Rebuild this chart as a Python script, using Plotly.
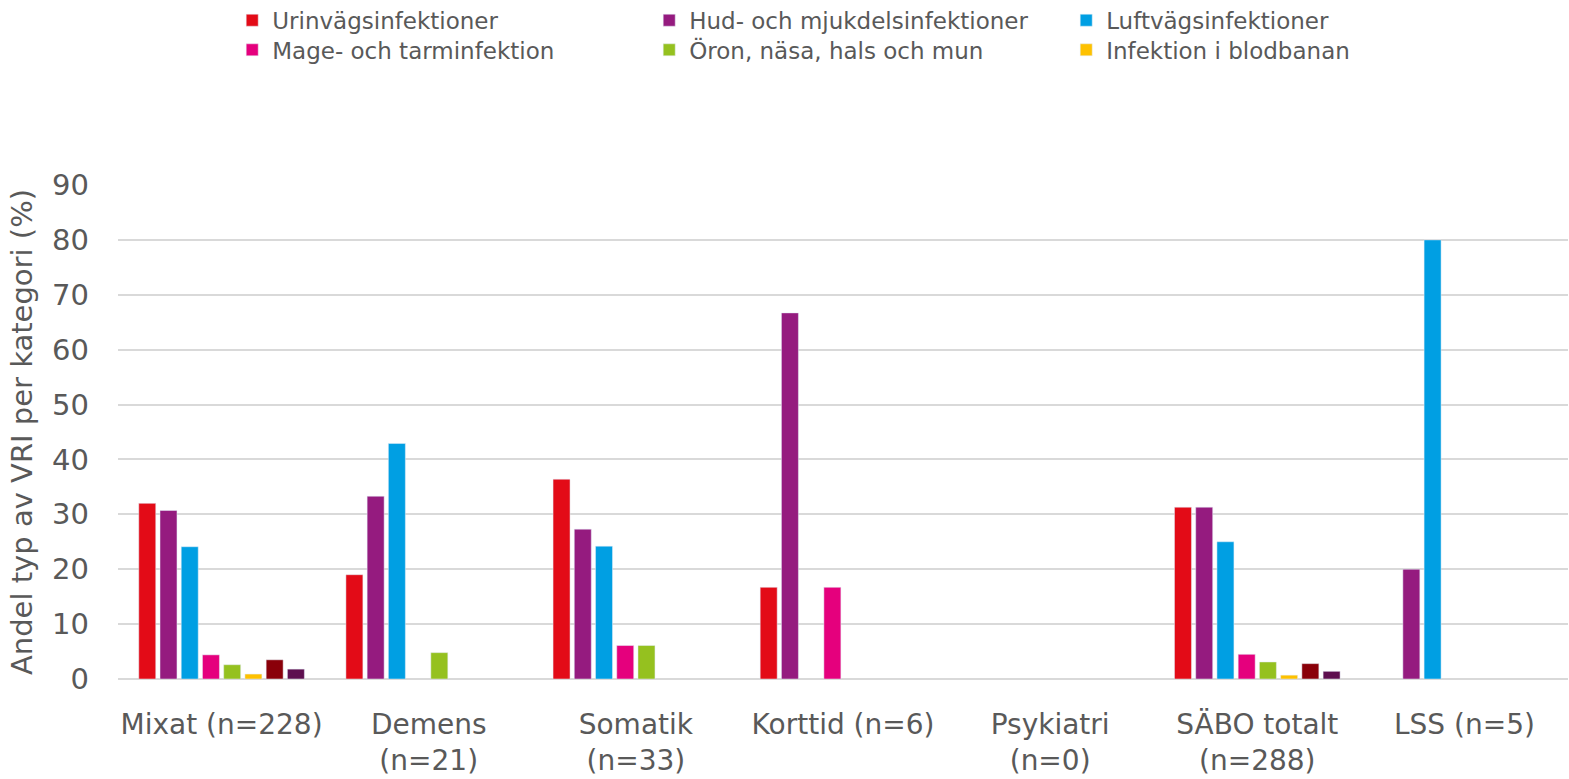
import plotly.graph_objects as go

categories = ["Mixat (n=228)", "Demens<br>(n=21)", "Somatik<br>(n=33)", "Korttid (n=6)",
              "Psykiatri<br>(n=0)", "SÄBO totalt<br>(n=288)", "LSS (n=5)"]

# andel (%) per kategori
urinvag = [32.0, 19.0, 36.4, 16.7, None, 31.3, None]
hud = [30.7, 33.3, 27.3, 66.7, None, 31.3, 20.0]
luftvag = [24.1, 42.9, 24.2, None, None, 25.0, 80.0]
mage = [4.4, None, 6.1, 16.7, None, 4.5, None]
oron = [2.6, 4.8, 6.1, None, None, 3.1, None]
blod = [0.9, None, None, None, None, 0.7, None]
ovrig1 = [3.5, None, None, None, None, 2.8, None]
ovrig2 = [1.8, None, None, None, None, 1.4, None]

# (name, values, colour, legend)
series = [
    ("Urinvägsinfektioner", urinvag, "#e30b17", "legend"),
    ("Hud- och mjukdelsinfektioner", hud, "#951b7f", "legend"),
    ("Luftvägsinfektioner", luftvag, "#009fe3", "legend"),
    ("Mage- och tarminfektion", mage, "#e5007d", "legend2"),
    ("Öron, näsa, hals och mun", oron, "#95c11f", "legend2"),
    ("Infektion i blodbanan", blod, "#fec100", "legend2"),
    ("Övriga", ovrig1, "#8a0009", None),
    ("Okänd", ovrig2, "#5e0f4f", None),
]

fig = go.Figure()
for n, vals, col, leg in series:
    fig.add_trace(go.Bar(x=categories, y=vals, name=n, marker_color=col,
                         showlegend=leg is not None, legend=leg or "legend"))

font = "DejaVu Sans"
legend_style = dict(orientation="h", xref="container", yref="container",
                    x=0.148, xanchor="left", yanchor="middle", bgcolor="rgba(0,0,0,0)",
                    font=dict(size=23, color="#595959"),
                    entrywidth=372, entrywidthmode="pixels",
                    traceorder="normal", itemwidth=30)

fig.update_layout(
    width=1569, height=779,
    plot_bgcolor="white", paper_bgcolor="white",
    margin=dict(l=118, r=1, t=185, b=100, autoexpand=False),
    barmode="group", bargap=0.18, bargroupgap=0.2,
    font=dict(family=font, size=28, color="#595959"),
    legend=dict(legend_style, y=0.974),
    legend2=dict(legend_style, y=0.936),
    xaxis=dict(showgrid=False, ticks="", ticklabelstandoff=26, automargin=False,
               tickfont=dict(size=28, color="#595959")),
    yaxis=dict(range=[0, 90], dtick=10, showgrid=True, gridcolor="#d9d9d9", gridwidth=2,
               zeroline=True, zerolinecolor="#d9d9d9", zerolinewidth=2, automargin=False,
               ticklabelstandoff=28, tickfont=dict(size=29, color="#595959"),
               title=dict(text="Andel typ av VRI per kategori (%)", standoff=10,
                          font=dict(size=29, color="#595959"))),
)

fig.write_html("out.html", config={"displayModeBar": False},
               post_script="document.body.style.margin='0';")
